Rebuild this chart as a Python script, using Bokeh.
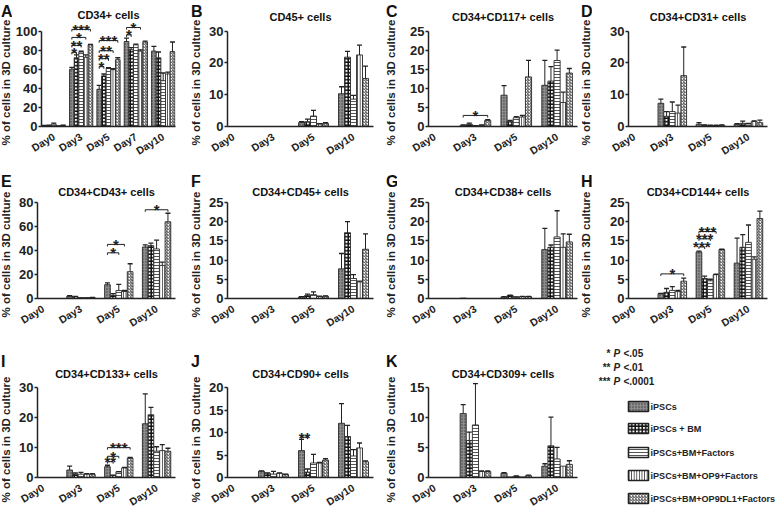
import math
from bokeh.plotting import figure
from bokeh.layouts import row, column
from bokeh.models import FixedTicker, Range1d
from bokeh.core.properties import value
from bokeh.embed import file_html
from bokeh.resources import INLINE

FONT = "Liberation Sans"
INK = "#222222"

# ---------------- data ----------------
series_names = ["iPSCs", "iPSCs + BM", "iPSCs+BM+Factors",
                "iPSCs+BM+OP9+Factors", "iPSCs+BM+OP9DL1+Factors"]
days5 = ["Day0", "Day3", "Day5", "Day7", "Day10"]
days4 = ["Day0", "Day3", "Day5", "Day10"]
y_label = "% of cells in 3D culture"

A_vals = [[0.8, 1.0, 2.5, 0.4, 1.2], [60, 72, 78, 72.5, 85.5], [39, 53, 61, 59.5, 70],
          [89, 80.5, 85.5, 79, 88.5], [79, 72, 48, 55, 78.5]]
A_errs = [[0.3, 0.3, 1.0, 0.2, 0.3], [2, 3, 0.8, 2.5, 0.5], [4, 2, 0.5, 1, 2],
          [3.5, 2, 0.8, 1.3, 1], [5, 6, 8, 2, 10]]
A_sig = [(1, 0, 1, 77.7, "*"), (1, 0, 2, 85, "**"), (1, 0, 3, 93.3, "*"), (1, 0, 4, 101.7, "***"),
         (2, 0, 1, 62.7, "*"), (2, 0, 2, 71, "**"), (2, 0, 3, 79.3, "**"), (2, 0, 4, 90, "***"),
         (3, 0, 1, 96, "*"), (3, 0, 3, 103.7, "*")]

B_vals = [[0] * 5, [0] * 5, [1.2, 1.5, 3.3, 0.8, 1.0], [10.3, 21.8, 8.6, 22.5, 15.1]]
B_errs = [[0] * 5, [0] * 5, [0.3, 0.8, 1.8, 0.1, 0.2], [2.2, 1.8, 1.2, 3.1, 3.9]]

C_vals = [[0] * 5, [0.3, 0.6, 0.1, 0.3, 1.6], [8.2, 1.4, 2.3, 2.5, 13.0], [10.8, 11.9, 17.3, 6.3, 14.0]]
C_errs = [[0] * 5, [0.1, 0.3, 0.1, 0.1, 0.2], [2.5, 0.2, 0.3, 0.4, 4.3], [6.5, 3.8, 2.7, 2.7, 1.2]]
C_sig = [(1, 0, 4, 2.9, "*")]

D_vals = [[0] * 5, [7.3, 3.2, 4.7, 4.2, 16.0], [0.7, 0.4, 0.3, 0.3, 0.4], [0.7, 1.0, 0.8, 1.6, 1.2]]
D_errs = [[0] * 5, [1.3, 1.5, 3.0, 2.5, 9.0], [0.5, 0.1, 0.1, 0.1, 0.1], [0.2, 0.7, 0.2, 0.2, 0.8]]

E_vals = [[0] * 5, [2.0, 1.4, 0.5, 0.5, 0.8], [11.5, 2.6, 6.6, 5.8, 22.3], [42.8, 44.0, 41.2, 27.5, 63.8]]
E_errs = [[0] * 5, [0.3, 0.3, 0.1, 0.1, 0.2], [1.5, 1.4, 5.2, 1.0, 6.6], [1.8, 2.0, 7.3, 2.7, 7.1]]
E_sig = [(2, 0, 2, 38, "*"), (2, 0, 3, 45, "*"), (3, 0, 4, 73.8, "*")]

F_vals = [[0] * 5, [0] * 5, [0.4, 0.75, 1.0, 0.5, 0.6], [7.7, 17.1, 5.2, 4.3, 12.8]]
F_errs = [[0] * 5, [0] * 5, [0.1, 0.4, 0.7, 0.1, 0.1], [4.0, 2.9, 1.0, 0.2, 4.0]]

G_vals = [[0] * 5, [0.1, 0, 0, 0, 0], [0.4, 0.75, 0.35, 0.5, 0.5], [12.7, 13.3, 16.0, 13.3, 14.7]]
G_errs = [[0] * 5, [0] * 5, [0.1, 0.1, 0.05, 0.05, 0.05], [5.5, 0.6, 6.8, 3.5, 2.0]]

H_vals = [[0] * 5, [1.25, 1.6, 2.1, 1.8, 4.5], [12.1, 5.2, 4.6, 6.2, 12.7], [9.2, 13.3, 14.6, 10.2, 20.8]]
H_errs = [[0] * 5, [0.1, 1.0, 1.0, 0.3, 0.8], [0.2, 0.6, 0.4, 0.1, 0.1], [6.5, 3.3, 4.5, 0.6, 1.9]]
H_sig = [(1, 0, 4, 6.4, "*"), (2, 0, 1, 13.4, "***"), (2, 0, 2, 15.5, "***"), (2, 0, 3, 17.4, "***")]

I_vals = [[0] * 5, [2.5, 1.1, 1.1, 1.1, 1.1], [3.6, 0.7, 1.9, 3.2, 6.5], [18.0, 21.0, 8.8, 9.0, 8.8]]
I_errs = [[0] * 5, [1.3, 0.4, 0.6, 0.2, 0.2], [0.5, 0.1, 0.1, 0.2, 0.2], [10.0, 2.5, 1.5, 2.0, 1.0]]
I_sig = [(2, 0, 1, 5.3, "**"), (2, 0, 2, 7.1, "*"), (2, 0, 4, 10.0, "***")]

J_vals = [[0] * 5, [1.4, 0.95, 0.75, 0.95, 0.7], [6.0, 1.2, 3.25, 3.25, 3.9], [12.1, 9.15, 4.8, 6.6, 3.5]]
J_errs = [[0] * 5, [0.1, 0.1, 0.6, 0.1, 0.05], [2.5, 0.7, 1.9, 0.1, 0.3], [4.4, 2.5, 1.4, 1.1, 0.2]]
J_sig = [(2, 0, 1, 9.0, "**")]

K_vals = [[0] * 5, [10.7, 6.2, 8.8, 1.0, 1.0], [0.7, 0.1, 0.2, 0.1, 0.3], [1.9, 5.3, 3.1, 1.9, 2.2]]
K_errs = [[0] * 5, [1.5, 1.4, 6.9, 0.1, 0.1], [0.1, 0, 0.05, 0, 0.1], [0.4, 4.8, 1.95, 0, 0.6]]

sig_stars = ["*", "**", "***"]
sig_levels = ["<.05", "<.01", "<.0001"]

# ---------------- styles ----------------
STYLES = [
    dict(fill_color="#8c8c8c", hatch_pattern="dot", hatch_color="#3c3c3c", hatch_scale=3, hatch_weight=1),
    dict(fill_color="white", hatch_pattern="cross", hatch_color="#111111", hatch_scale=3.5, hatch_weight=1.5),
    dict(fill_color="white", hatch_pattern="horizontal_line", hatch_color="#555555", hatch_scale=3, hatch_weight=1),
    dict(fill_color="white", hatch_pattern="vertical_line", hatch_color="#3a3a3a", hatch_scale=2.6, hatch_weight=1),
    dict(fill_color="white", hatch_pattern="right_diagonal_line", hatch_color="#444444", hatch_scale=3, hatch_weight=1),
]

SW = 12  # strip holding the panel letter and the y label
COLS = [dict(w=190, lb=25, rb=15), dict(w=195, lb=25, rb=12),
        dict(w=195, lb=31, rb=3), dict(w=196, lb=36, rb=9)]
ROWS = [dict(h=164, T=15, Y0=31, P=100, let=2, yc=82),
        dict(h=172, T=26, Y0=38, P=100, let=8, yc=90),
        dict(h=179, T=36, Y0=52, P=96, let=16, yc=103)]


def bare(width, height):
    f = figure(width=width, height=height, x_range=Range1d(0, width), y_range=Range1d(0, height),
               output_backend="svg", toolbar_location=None, min_border=0,
               x_axis_type=None, y_axis_type=None, title_location=None, frame_align=False)
    f.outline_line_color = None
    f.xgrid.visible = False
    f.ygrid.visible = False
    return f


def make_panel(letter, title, days, vals, errs, yticks, sig, ri, ci, lift=0):
    r = ROWS[ri]
    c = COLS[ci]
    W = c["w"] - SW
    n = len(days)
    if n == 5:
        bw, xr = 0.17, (-0.45, 4.45)
    else:
        bw, xr = 0.15, (-0.15, 3.5)
    top = yticks[-1]
    frame_top = r["T"] + 7 - lift
    ext_px = r["Y0"] - frame_top
    y_end = top * (1 + ext_px / r["P"])
    b_bot = r["h"] - r["Y0"] - r["P"]
    p = figure(width=W, height=r["h"], x_range=Range1d(*xr),
               y_range=Range1d(0, y_end), output_backend="svg", toolbar_location=None,
               title=title, min_border_left=c["lb"], min_border_right=c["rb"],
               min_border_top=frame_top, min_border_bottom=b_bot, frame_align=False)
    p.title.align = "center"
    p.title.text_font = FONT
    p.title.text_font_size = "11px"
    p.title.text_font_style = "bold"
    p.title.text_color = "#111111"
    p.title.standoff = 0
    p.xgrid.visible = False
    p.ygrid.visible = False
    p.outline_line_color = None

    for s in range(5):
        xs = [g + (s - 2) * bw for g in range(n)]
        tops = [vals[g][s] for g in range(n)]
        p.vbar(x=xs, top=tops, bottom=0, width=bw, line_color="#2a2a2a", line_width=0.9, **STYLES[s])
        keep = [g for g in range(n) if errs[g][s] > 0]
        if keep:
            ex = [xs[g] for g in keep]
            e0 = [vals[g][s] for g in keep]
            e1 = [vals[g][s] + errs[g][s] for g in keep]
            p.segment(x0=ex, y0=e0, x1=ex, y1=e1, line_color=INK, line_width=1)
            p.scatter(x=ex, y=e1, marker="dash", size=5, line_color=INK, line_width=1.3)

    d = y_end * 0.02
    for (g, i, j, y, lab) in sig:
        x1 = g + (i - 2) * bw
        x2 = g + (j - 2) * bw
        p.line([x1, x1, x2, x2], [y - d, y, y, y - d], line_color=INK, line_width=1)
        p.text(x=[(x1 + x2) / 2], y=[y], text=[lab], text_align="center", text_baseline="middle",
               text_font=value(FONT), text_font_size="15px", text_font_style="bold", text_color=INK)

    p.xaxis.ticker = FixedTicker(ticks=list(range(n)))
    p.xaxis.major_label_overrides = {i: dname for i, dname in enumerate(days)}
    p.xaxis.major_label_orientation = 0.55
    p.xaxis.major_tick_line_color = None
    p.xaxis.minor_tick_line_color = None
    p.xaxis.major_label_standoff = 3
    p.xaxis.major_label_text_font_size = "10.5px"
    p.yaxis.ticker = FixedTicker(ticks=yticks)
    p.yaxis.bounds = (0, top)
    p.yaxis.minor_tick_line_color = None
    p.yaxis.major_tick_out = 3
    p.yaxis.major_tick_in = 0
    p.yaxis.major_tick_line_width = 1.5
    p.yaxis.major_tick_line_color = INK
    p.yaxis.major_label_standoff = 1
    p.yaxis.major_label_text_font_size = "13px"
    for ax in (p.xaxis, p.yaxis):
        ax.axis_line_width = 1.5
        ax.axis_line_color = INK
        ax.major_label_text_font = FONT
        ax.major_label_text_font_style = "bold"
        ax.major_label_text_color = INK

    strip = bare(SW, r["h"])
    strip.text(x=[0.5], y=[r["h"] - r["let"]], text=[letter], text_align="left", text_baseline="top",
               text_font=value(FONT), text_font_size="16px", text_font_style="bold", text_color="#111111")
    strip.text(x=[5.5], y=[r["h"] - r["yc"]], text=[y_label], angle=math.pi / 2, text_align="center",
               text_baseline="middle", text_font=value(FONT), text_font_size="11.5px",
               text_font_style="bold", text_color=INK)
    return row(strip, p, spacing=0)


cA = make_panel("A", "CD34+ cells", days5, A_vals, A_errs, [0, 20, 40, 60, 80, 100], A_sig, 0, 0, lift=2)
cB = make_panel("B", "CD45+ cells", days4, B_vals, B_errs, [0, 10, 20, 30], [], 0, 1)
cC = make_panel("C", "CD34+CD117+ cells", days4, C_vals, C_errs, [0, 5, 10, 15, 20, 25], C_sig, 0, 2)
cD = make_panel("D", "CD34+CD31+ cells", days4, D_vals, D_errs, [0, 10, 20, 30], [], 0, 3)
cE = make_panel("E", "CD34+CD43+ cells", days4, E_vals, E_errs, [0, 20, 40, 60, 80], E_sig, 1, 0)
cF = make_panel("F", "CD34+CD45+ cells", days4, F_vals, F_errs, [0, 5, 10, 15, 20, 25], [], 1, 1)
cG = make_panel("G", "CD34+CD38+ cells", days4, G_vals, G_errs, [0, 5, 10, 15, 20, 25], [], 1, 2)
cH = make_panel("H", "CD34+CD144+ cells", days4, H_vals, H_errs, [0, 5, 10, 15, 20, 25], H_sig, 1, 3)
cI = make_panel("I", "CD34+CD133+ cells", days4, I_vals, I_errs, [0, 10, 20, 30], I_sig, 2, 0)
cJ = make_panel("J", "CD34+CD90+ cells", days4, J_vals, J_errs, [0, 5, 10, 15, 20], J_sig, 2, 1)
cK = make_panel("K", "CD34+CD309+ cells", days4, K_vals, K_errs, [0, 5, 10, 15], [], 2, 2)

# ---------------- legend panel ----------------
LW, LH = COLS[3]["w"], ROWS[2]["h"]
leg = bare(LW, LH)
note_y = [LH - 17, LH - 31, LH - 45]
leg.text(x=[30] * 3, y=note_y, text=sig_stars, text_align="right", text_baseline="middle",
         text_font=value(FONT), text_font_size="10px", text_font_style="bold", text_color=INK)
leg.text(x=[33] * 3, y=note_y, text=["P"] * 3, text_align="left", text_baseline="middle",
         text_font=value(FONT), text_font_size="10px", text_font_style="bold italic", text_color=INK)
leg.text(x=[43] * 3, y=note_y, text=sig_levels, text_align="left", text_baseline="middle",
         text_font=value(FONT), text_font_size="10px", text_font_style="bold", text_color=INK)
box_y = [LH - 70, LH - 92, LH - 116, LH - 139, LH - 162]
for s in range(5):
    leg.rect(x=[58], y=[box_y[s]], width=20, height=10, line_color=INK, line_width=1.6, **STYLES[s])
leg.text(x=[70] * 5, y=box_y, text=series_names, text_align="left", text_baseline="middle",
         text_font=value(FONT), text_font_size="9.1px", text_font_style="bold", text_color=INK)

page = column(row(cA, cB, cC, cD, spacing=0),
              row(cE, cF, cG, cH, spacing=0),
              row(cI, cJ, cK, leg, spacing=0), spacing=0)

open("out.html", "w").write(file_html(page, INLINE))
